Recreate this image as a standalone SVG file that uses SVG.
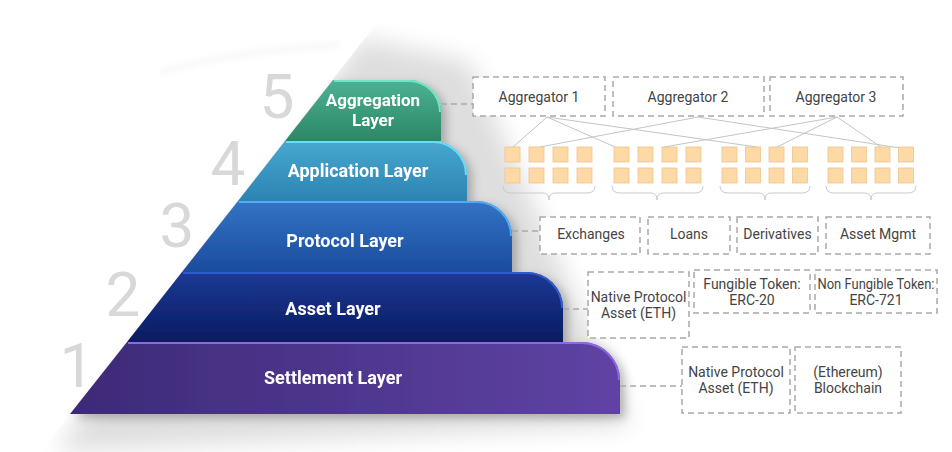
<svg xmlns="http://www.w3.org/2000/svg" width="952" height="452" viewBox="0 0 952 452">
<style>
.num{font-family:Roboto,"Liberation Sans",sans-serif;font-weight:400;font-size:62px;fill:#d8d8d8;text-anchor:middle}
.lt{font-family:Roboto,"Liberation Sans",sans-serif;font-weight:700;font-size:18px;fill:#ffffff;text-anchor:middle}
.bx{fill:#ffffff;stroke:#a9a9a9;stroke-width:1.5;stroke-dasharray:6 4}
.bt{font-family:Roboto,"Liberation Sans",sans-serif;font-size:14px;fill:#444444;text-anchor:middle}
.dash{fill:none;stroke:#a9a9a9;stroke-width:1.5;stroke-dasharray:6 4}
.ln{fill:none;stroke:#c4c4c4;stroke-width:1}
.sq{fill:#fdd9a5;stroke:#eec48c;stroke-width:0.8}
.br{fill:none;stroke:#cacaca;stroke-width:1}
.hl{fill:none;stroke-width:2}
</style>
<defs>
<filter id="blurBig" x="-30%" y="-30%" width="160%" height="160%"><feGaussianBlur stdDeviation="12"/></filter>
<filter id="blurS" x="-30%" y="-30%" width="160%" height="160%"><feGaussianBlur stdDeviation="3"/></filter>
<filter id="drop" x="-10%" y="-10%" width="130%" height="140%"><feDropShadow dx="5" dy="4" stdDeviation="5" flood-color="#000" flood-opacity="0.25"/></filter>
<clipPath id="rightDiag"><polygon points="395,0 952,0 952,452 40,452"/></clipPath>
<linearGradient id="gAgg" x1="0" y1="0" x2="0" y2="1"><stop offset="0" stop-color="#4cb293"/><stop offset="1" stop-color="#2b8766"/></linearGradient>
<linearGradient id="gApp" x1="0" y1="0" x2="0" y2="1"><stop offset="0" stop-color="#47a8cf"/><stop offset="1" stop-color="#2c83b2"/></linearGradient>
<linearGradient id="gPro" x1="0" y1="0" x2="0" y2="1"><stop offset="0" stop-color="#3373c5"/><stop offset="1" stop-color="#1b4c9c"/></linearGradient>
<linearGradient id="gAss" x1="0" y1="0" x2="0" y2="1"><stop offset="0" stop-color="#1c3996"/><stop offset="1" stop-color="#0a1b60"/></linearGradient>
<linearGradient id="gSet" x1="0" y1="0" x2="1" y2="0"><stop offset="0" stop-color="#3d2a77"/><stop offset="1" stop-color="#5f43a4"/></linearGradient>
</defs>

<g id="background">
<path d="M160,72 Q240,50 340,45" fill="none" stroke="#e6e6e6" stroke-width="4" opacity="0.45" filter="url(#blurS)"/>
<g clip-path="url(#rightDiag)">
<path d="M362,38 L470,62 L590,330 L630,425 L55,452 Z" fill="#000" opacity="0.13" filter="url(#blurBig)"/>
</g>
</g>

<g id="numbers">
<text class="num" x="277" y="118">5</text>
<text class="num" x="228" y="185">4</text>
<text class="num" x="177" y="247">3</text>
<text class="num" x="123" y="316">2</text>
<text class="num" x="77" y="387">1</text>
</g>

<g id="layers" filter="url(#drop)">
<g id="settlement-layer">
<path d="M127,342 H582 A38,38 0 0 1 620,380 V414 H70 Z" fill="url(#gSet)"/>
<path class="hl" d="M128,343 H582 A37,37 0 0 1 619,380" stroke="#8d68e4"/>
<text class="lt" x="333" y="384">Settlement Layer</text>
</g>
<g id="asset-layer">
<path d="M182,272 H527 A36,36 0 0 1 563,308 V342 H127 Z" fill="url(#gAss)"/>
<path class="hl" d="M183,273 H527 A35,35 0 0 1 562,308" stroke="#2f5cce"/>
<text class="lt" x="333" y="315">Asset Layer</text>
</g>
<g id="protocol-layer">
<path d="M238,201 H477 A35,35 0 0 1 512,236 V272 H182 Z" fill="url(#gPro)"/>
<path class="hl" d="M239,202 H477 A34,34 0 0 1 511,236" stroke="#52aaf5"/>
<text class="lt" x="345" y="247">Protocol Layer</text>
</g>
<g id="application-layer">
<path d="M285,141 H433 A34,34 0 0 1 467,175 V201 H238 Z" fill="url(#gApp)"/>
<path class="hl" d="M286,142 H433 A33,33 0 0 1 466,175" stroke="#68dbf6"/>
<text class="lt" x="358" y="177">Application Layer</text>
</g>
<g id="aggregation-layer">
<path d="M333,80 H409 A32,32 0 0 1 441,112 V141 H285 Z" fill="url(#gAgg)"/>
<path class="hl" d="M334,81 H409 A31,31 0 0 1 440,112" stroke="#72e6c4"/>
<text class="lt" x="373" y="106" style="font-size:17px">Aggregation</text>
<text class="lt" x="373" y="126" style="font-size:17px">Layer</text>
</g>
</g>

<g id="connectors">
<path class="dash" d="M441,104 H473"/>
<path class="dash" d="M512,231 H540"/>
<path class="dash" d="M563,309 H588"/>
<path class="dash" d="M620,386 H682"/>
<path class="ln" d="M547,117 L513,147 M547,117 L615,147 M547,117 L757,147"/>
<path class="ln" d="M698,117 L540,147 M698,117 L900,148"/>
<path class="ln" d="M837,117 L664,147 M837,117 L777,147 M837,117 L881,147"/>
</g>

<g id="aggregators">
<g id="aggregator-1"><rect class="bx" x="473" y="77" width="132" height="39"/><text class="bt" x="539" y="102">Aggregator 1</text></g>
<g id="aggregator-2"><rect class="bx" x="613" y="77" width="151" height="39"/><text class="bt" x="688" y="102">Aggregator 2</text></g>
<g id="aggregator-3"><rect class="bx" x="770" y="77" width="133" height="39"/><text class="bt" x="836" y="102">Aggregator 3</text></g>
</g>

<g id="applications">
<g id="app-group-1">
<rect class="sq" x="505" y="147" width="15" height="15"/><rect class="sq" x="529" y="147" width="15" height="15"/><rect class="sq" x="553" y="147" width="15" height="15"/><rect class="sq" x="577" y="147" width="15" height="15"/>
<rect class="sq" x="505" y="168" width="15" height="15"/><rect class="sq" x="529" y="168" width="15" height="15"/><rect class="sq" x="553" y="168" width="15" height="15"/><rect class="sq" x="577" y="168" width="15" height="15"/>
<path class="br" d="M503,186 Q503,193 511,193 H543 Q549,193 549,200 Q549,193 555,193 H587 Q595,193 595,186"/>
</g>
<g id="app-group-2">
<rect class="sq" x="614" y="147" width="15" height="15"/><rect class="sq" x="638" y="147" width="15" height="15"/><rect class="sq" x="662" y="147" width="15" height="15"/><rect class="sq" x="686" y="147" width="15" height="15"/>
<rect class="sq" x="614" y="168" width="15" height="15"/><rect class="sq" x="638" y="168" width="15" height="15"/><rect class="sq" x="662" y="168" width="15" height="15"/><rect class="sq" x="686" y="168" width="15" height="15"/>
<path class="br" d="M612,186 Q612,193 620,193 H651 Q657,193 657,200 Q657,193 663,193 H695 Q703,193 703,186"/>
</g>
<g id="app-group-3">
<rect class="sq" x="722" y="147" width="15" height="15"/><rect class="sq" x="745.5" y="147" width="15" height="15"/><rect class="sq" x="769" y="147" width="15" height="15"/><rect class="sq" x="792.5" y="147" width="15" height="15"/>
<rect class="sq" x="722" y="168" width="15" height="15"/><rect class="sq" x="745.5" y="168" width="15" height="15"/><rect class="sq" x="769" y="168" width="15" height="15"/><rect class="sq" x="792.5" y="168" width="15" height="15"/>
<path class="br" d="M720,186 Q720,193 728,193 H759 Q765,193 765,200 Q765,193 771,193 H802 Q810,193 810,186"/>
</g>
<g id="app-group-4">
<rect class="sq" x="828" y="147" width="15" height="15"/><rect class="sq" x="851.5" y="147" width="15" height="15"/><rect class="sq" x="875" y="147" width="15" height="15"/><rect class="sq" x="898.5" y="147" width="15" height="15"/>
<rect class="sq" x="828" y="168" width="15" height="15"/><rect class="sq" x="851.5" y="168" width="15" height="15"/><rect class="sq" x="875" y="168" width="15" height="15"/><rect class="sq" x="898.5" y="168" width="15" height="15"/>
<path class="br" d="M826,186 Q826,193 834,193 H865 Q871,193 871,200 Q871,193 877,193 H908 Q916,193 916,186"/>
</g>
</g>

<g id="protocols">
<g id="exchanges"><rect class="bx" x="540" y="217" width="100" height="37"/><text class="bt" x="591" y="239">Exchanges</text></g>
<g id="loans"><rect class="bx" x="648" y="217" width="82" height="37"/><text class="bt" x="689" y="239">Loans</text></g>
<g id="derivatives"><rect class="bx" x="737" y="217" width="81" height="37"/><text class="bt" x="777.5" y="239">Derivatives</text></g>
<g id="asset-mgmt"><rect class="bx" x="826" y="217" width="104" height="37"/><text class="bt" x="878" y="239">Asset Mgmt</text></g>
</g>

<g id="assets">
<g id="native-asset-1"><rect class="bx" x="588" y="272" width="101" height="66"/><text class="bt" x="638.5" y="302">Native Protocol</text><text class="bt" x="638.5" y="318">Asset (ETH)</text></g>
<g id="fungible"><rect class="bx" x="694" y="270" width="116" height="43"/><text class="bt" x="752" y="289">Fungible Token:</text><text class="bt" x="752" y="305">ERC-20</text></g>
<g id="non-fungible"><rect class="bx" x="815" y="270" width="122" height="43"/><text class="bt" x="876" y="289" textLength="117" lengthAdjust="spacingAndGlyphs">Non Fungible Token:</text><text class="bt" x="876" y="305">ERC-721</text></g>
</g>

<g id="settlements">
<g id="native-asset-2"><rect class="bx" x="682" y="347" width="108" height="66"/><text class="bt" x="736" y="377">Native Protocol</text><text class="bt" x="736" y="393">Asset (ETH)</text></g>
<g id="blockchain"><rect class="bx" x="795" y="347" width="106" height="66"/><text class="bt" x="848" y="377">(Ethereum)</text><text class="bt" x="848" y="393">Blockchain</text></g>
</g>
</svg>
